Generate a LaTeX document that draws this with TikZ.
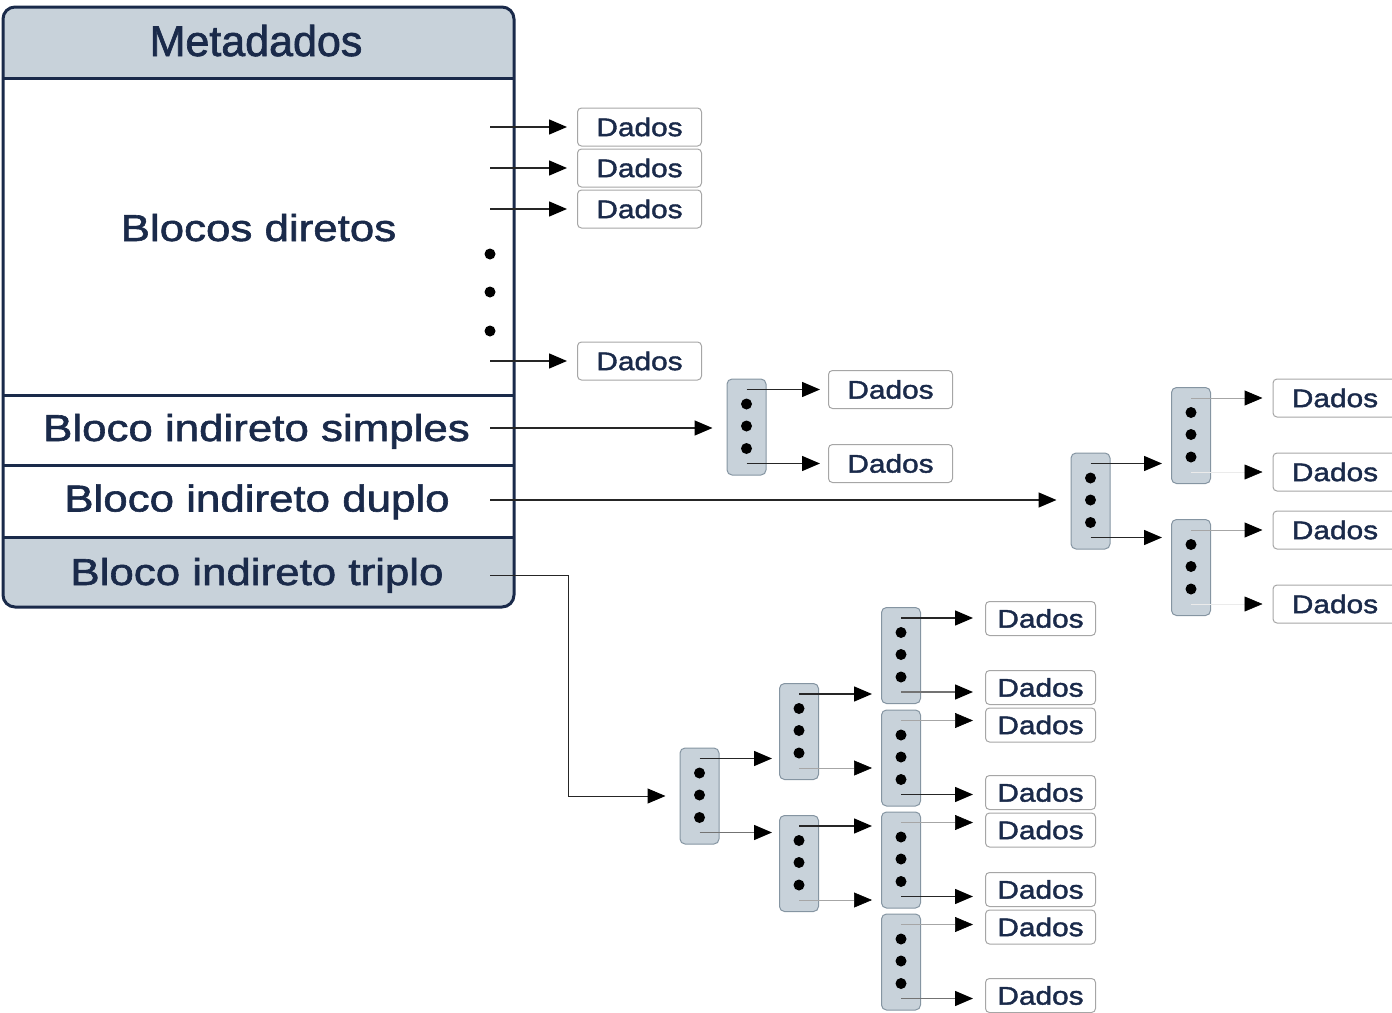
\documentclass[tikz,border=0pt]{standalone}
\usepackage{fontspec}
\setmainfont{Liberation Sans}
\newfontfamily\headfont[FakeBold=1.6]{Liberation Sans}
\newfontfamily\widefont[FakeStretch=1.17, FakeBold=1.6]{Liberation Sans}
\usetikzlibrary{calc, arrows.meta}
\definecolor{navy}{HTML}{1A2A4A}
\definecolor{panel}{HTML}{C8D2DA}
\definecolor{ptrline}{HTML}{8595A2}

\begin{document}
\begin{tikzpicture}[%
    x=1pt, y=-1pt,
    arr/.style = {-{Triangle[length=18pt, width=15pt, color=black, fill=black]}, line width=1.4pt, draw=black!85},
    every edge/.style = {draw, arr, shorten >=10pt},
    faint/.style = {line width=0.6pt, draw=black!35},
    ghost/.style = {line width=0.5pt, draw=black!8},
    field/.style = {anchor=base, text=navy, font=\widefont\fontsize{37.5}{40}\selectfont},
    dados/.style = {draw=black!35, line width=1pt, fill=white, rounded corners=4pt, text=navy,
        font=\widefont\fontsize{25.5}{28}\selectfont, minimum height=38pt, inner sep=0pt, anchor=west},
    ptr/.style = {draw=ptrline, fill=panel, line width=1pt, rounded corners=5pt,
        minimum width=39pt, minimum height=96pt, inner sep=0pt}
]
\useasboundingbox (0,0) rectangle (1392,1012);

% i-node
\fill[panel, rounded corners=12pt] (3,7) rectangle (514,607);
\fill[white] (3,78) rectangle (514,537);
\draw[navy, line width=3pt, rounded corners=12pt] (3,7) rectangle (514,607);
\foreach \y in {78,395,465,537}
    \draw[navy, line width=3pt] (3,\y) -- (514,\y);

\node (meta) [anchor=base, text=navy, font=\headfont\fontsize{43}{48}\selectfont] at (256,56) {Metadados};
\node (diretos) [field] at (258.5,241) {Blocos diretos};
\node (simples) [field] at (256.5,441) {Bloco indireto simples};
\node (duplo) [field] at (257,511.5) {Bloco indireto duplo};
\node (triplo) [field] at (257,585) {Bloco indireto triplo};

% direct blocks
\foreach \n/\y in {1/127, 2/168, 3/209, 4/361} {
    \coordinate (dsrc\n) at (490,\y);
    \node (dir\n) [dados, minimum width=124pt] at (577,\y) {Dados};
    \path (dsrc\n) edge (dir\n.west);
}
\foreach \y in {254,292,331}
    \fill[black] (490,\y) circle (5.5);

% pointer blocks
\foreach \b/\x/\y in {I1/746.5/427, D1/1090.5/501, D2a/1191/435.5, D2b/1191/567.5,
        T1/699.5/796, T2a/799/731.5, T2b/799/863.5,
        T3a/901/655.5, T3b/901/758, T3c/901/860, T3d/901/962} {
    \node (\b) [ptr] at (\x,\y) {};
    \foreach \d in {-23,-1,21.5}
        \fill[black] ($(\b)+(0,\d)$) circle (5.5);
    \coordinate (\b-hi) at ($(\b.north)+(0,11)$);
    \coordinate (\b-lo) at ($(\b.south)+(0,-12)$);
}

% data blocks behind pointers
\foreach \b in {I1, D2a, D2b} {
    \node (\b-dh) [dados, minimum width=124pt] at ($(\b-hi)+(81.5,0)$) {Dados};
    \node (\b-dl) [dados, minimum width=124pt] at ($(\b-lo)+(81.5,0)$) {Dados};
}
\foreach \b/\hi/\lo in {T3a/0.5/-4.5, T3b/4.5/-2, T3c/7.5/-7, T3d/2.5/-3} {
    \node (\b-dh) [dados, minimum width=110pt, minimum height=34pt] at ($(\b-hi)+(84,\hi)$) {Dados};
    \node (\b-dl) [dados, minimum width=110pt, minimum height=34pt] at ($(\b-lo)+(84,\lo)$) {Dados};
}

\coordinate (ssrc) at (490,428);
\coordinate (dsrc) at (490,500);
\coordinate (tsrc) at (490,575);

\path
    (ssrc) edge [shorten >=14pt] (ssrc -| I1.west)
    (dsrc) edge [shorten >=14pt] (dsrc -| D1.west)
    (I1-hi) edge [shorten >=8pt] (I1-dh.west)
    (I1-lo) edge [shorten >=8pt] (I1-dl.west)
    (D1-hi) edge [shorten >=9pt] (D1-hi -| D2a.west)
    (D1-lo) edge [shorten >=9pt] (D1-lo -| D2b.west)
    (D2a-hi) edge [faint, line width=1pt] (D2a-dh.west)
    (D2a-lo) edge [ghost] (D2a-dl.west)
    (D2b-hi) edge [faint, line width=1pt] (D2b-dh.west)
    (D2b-lo) edge [ghost] (D2b-dl.west)
    (T1-hi) edge [shorten >=7pt] (T1-hi -| T2a.west)
    (T1-lo) edge [shorten >=7pt, draw=black!55] (T1-lo -| T2b.west)
    (T2a-hi) edge [shorten >=9pt] (T2a-hi -| T3a.west)
    (T2a-lo) edge [shorten >=9pt, faint] (T2a-lo -| T3b.west)
    (T2b-hi) edge [shorten >=9pt] (T2b-hi -| T3c.west)
    (T2b-lo) edge [shorten >=9pt, faint] (T2b-lo -| T3d.west)
    (T3a-hi) edge [shorten >=12pt] (T3a-hi -| T3a-dh.west)
    (T3a-lo) edge [shorten >=12pt, draw=black!55] (T3a-lo -| T3a-dl.west)
    (T3b-hi) edge [shorten >=12pt, faint] (T3b-hi -| T3b-dh.west)
    (T3b-lo) edge [shorten >=12pt] (T3b-lo -| T3b-dl.west)
    (T3c-hi) edge [shorten >=12pt, faint] (T3c-hi -| T3c-dh.west)
    (T3c-lo) edge [shorten >=12pt] (T3c-lo -| T3c-dl.west)
    (T3d-hi) edge [shorten >=12pt, faint] (T3d-hi -| T3d-dh.west)
    (T3d-lo) edge [shorten >=12pt, draw=black!55] (T3d-lo -| T3d-dl.west)
    ;
\draw[arr, line width=1pt, shorten >=14pt] (tsrc) -- ++(78,0) |- (T1.west);
\end{tikzpicture}
\end{document}
